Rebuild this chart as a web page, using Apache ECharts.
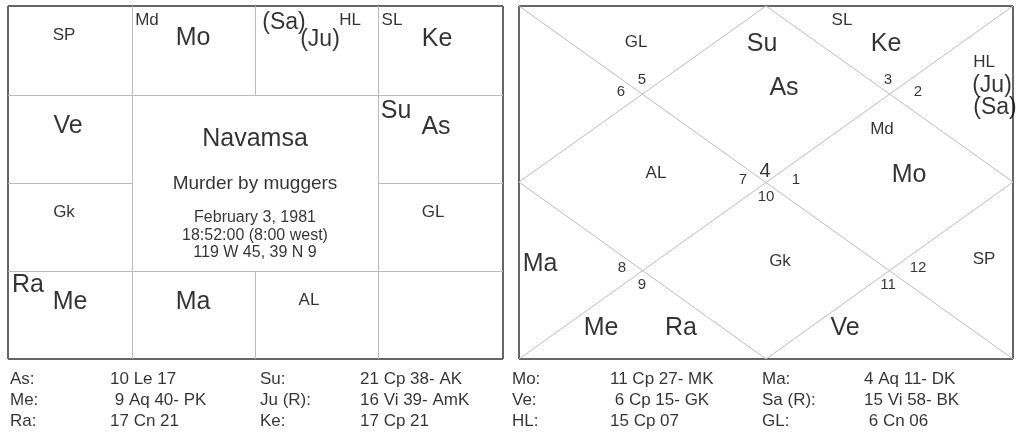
<!DOCTYPE html>
<html>
<head>
<meta charset="utf-8">
<script src="https://cdn.jsdelivr.net/npm/echarts@6/dist/echarts.min.js"></script>
<style>html,body{margin:0;padding:0;background:#fff}#main{width:1024px;height:433px}</style>
</head>
<body>
<div id="main"></div>
<script>
// outer boxes [x1, y1, x2, y2]
const boxes = [[8, 6, 503, 359], [519, 6, 1013, 359]]
// grid lines of the south-indian chart and diamond of the north-indian chart
const segments = [
  [132, 6, 132, 359], [378, 6, 378, 359], [255, 6, 255, 95], [255, 271, 255, 359],
  [8, 95, 503, 95], [8, 271, 503, 271], [8, 183, 132, 183], [378, 183, 503, 183],
  [519, 6, 1013, 359], [1013, 6, 519, 359],
  [766, 6, 1013, 182], [1013, 182, 766, 359], [766, 359, 519, 182], [519, 182, 766, 6]
]
// chart labels [x, y, text, size]
const labels = [
  [64, 35, 'SP', 17], [147, 20, 'Md', 17], [193, 38, 'Mo', 25], [284, 23, '(Sa)', 23],
  [350, 20, 'HL', 17], [320, 40, '(Ju)', 23], [392, 20, 'SL', 17], [437, 39, 'Ke', 25],
  [68, 126, 'Ve', 25], [396, 111, 'Su', 25], [436, 127, 'As', 25],
  [255, 139, 'Navamsa', 25], [255, 184, 'Murder by muggers', 19],
  [255, 218, 'February 3, 1981', 16], [255, 236, '18:52:00 (8:00 west)', 16], [255, 253, '119 W 45, 39 N 9', 16],
  [64, 212, 'Gk', 17], [433, 212, 'GL', 17], [28, 285, 'Ra', 25], [70, 302, 'Me', 25],
  [193, 302, 'Ma', 25], [309, 300, 'AL', 17],
  [636, 42, 'GL', 17], [762, 44, 'Su', 25], [842, 20, 'SL', 17], [886, 44, 'Ke', 25],
  [984, 62, 'HL', 17], [992, 86, '(Ju)', 23], [995, 108, '(Sa)', 23],
  [642, 80, '5', 15], [621, 92, '6', 15], [784, 88, 'As', 25], [888, 80, '3', 15], [918, 92, '2', 15],
  [882, 129, 'Md', 17], [656, 173, 'AL', 17], [743, 180, '7', 15], [765, 171, '4', 20],
  [796, 180, '1', 15], [766, 197, '10', 15], [909, 175, 'Mo', 25], [780, 261, 'Gk', 17],
  [540, 264, 'Ma', 25], [622, 268, '8', 15], [642, 285, '9', 15], [918, 268, '12', 15],
  [888, 285, '11', 15], [984, 259, 'SP', 17], [601, 328, 'Me', 25], [681, 328, 'Ra', 25], [845, 328, 'Ve', 25]
]
// position table below the charts
const tableCols = [10, 110, 260, 360, 512, 610, 762, 864]
const tableRows = [379, 400, 421]
const tableText = [
  ['As:', '10 Le 17', 'Su:', '21 Cp 38- AK', 'Mo:', '11 Cp 27- MK', 'Ma:', '4 Aq 11- DK'],
  ['Me:', ' 9 Aq 40- PK', 'Ju (R):', '16 Vi 39- AmK', 'Ve:', ' 6 Cp 15- GK', 'Sa (R):', '15 Vi 58- BK'],
  ['Ra:', '17 Cn 21', 'Ke:', '17 Cp 21', 'HL:', '15 Cp 07', 'GL:', ' 6 Cn 06']
]

const lineData = []
boxes.forEach(([a, b, c, d]) => {
  [[a, b, c, b], [c, b, c, d], [c, d, a, d], [a, d, a, b]].forEach(s =>
    lineData.push({ coords: [[s[0], s[1]], [s[2], s[3]]], lineStyle: { color: '#666', width: 2 } }))
})
segments.forEach(s => lineData.push({ coords: [[s[0], s[1]], [s[2], s[3]]] }))

const textData = labels.map(([x, y, t, size]) => ({
  value: [x, y], name: t,
  label: { fontSize: size }
}))
const tableData = []
tableRows.forEach((y, r) => tableCols.forEach((x, c) => {
  tableData.push({ value: [x, y], name: tableText[r][c] })
}))

const chart = echarts.init(document.getElementById('main'))
chart.setOption({
  animation: false,
  grid: { left: 0, right: 0, top: 0, bottom: 0 },
  xAxis: { type: 'value', min: 0, max: 1024, show: false },
  yAxis: { type: 'value', min: 0, max: 433, inverse: true, show: false },
  series: [{
    type: 'lines', coordinateSystem: 'cartesian2d', silent: true,
    lineStyle: { color: '#bbb', width: 1, opacity: 1 },
    data: lineData
  }, {
    type: 'scatter', symbolSize: 0, silent: true,
    label: {
      show: true, position: 'inside', formatter: p => p.name,
      color: '#000', fontFamily: 'Liberation Sans, Arial, sans-serif'
    },
    data: textData
  }, {
    type: 'scatter', symbolSize: 0, silent: true,
    label: {
      show: true, position: 'inside', align: 'left', formatter: p => p.name,
      color: '#000', fontSize: 17, fontFamily: 'Liberation Sans Narrow, Liberation Sans, sans-serif'
    },
    data: tableData
  }]
})
</script>
</body>
</html>
